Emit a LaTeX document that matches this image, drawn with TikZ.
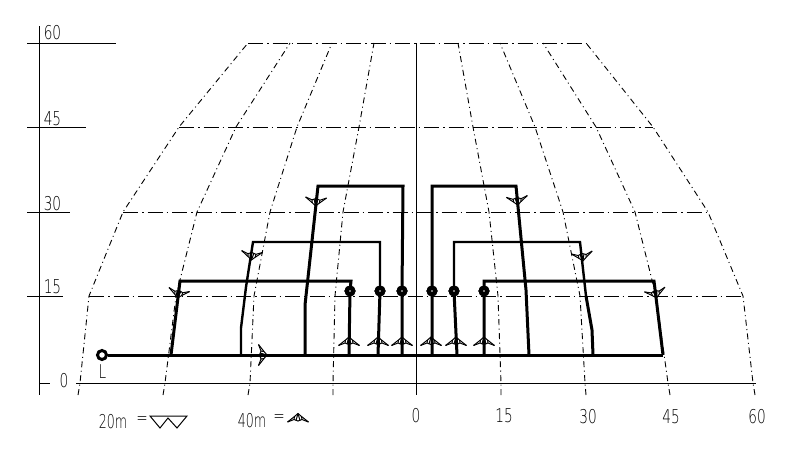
\documentclass[tikz,border=0pt]{standalone}
\usepackage{fontspec}
\setmainfont{DejaVu Sans ExtraLight}
\newcommand{\symfan}[3]{%
  \begin{scope}[shift={(#1,#2)},rotate=#3,line width=1pt,line join=miter]
    \draw (-10.5,1.5) -- (-3.5,-4) -- (0,-7) -- (3.5,-4) -- (10.5,1.5);
    \draw (-10.5,1.5) -- (-4,-1) -- (0,.5) -- (4,-1) -- (10.5,1.5);
    \draw (-3.5,-4) -- (-4,-1) (3.5,-4) -- (4,-1);
    \draw (0,-7) -- (-2,0) (0,-7) -- (2,0);
  \end{scope}}
\tikzset{
  x=1pt,y=-1pt,
  axisline/.style={line width=1pt,black},
  gridh/.style={line width=1pt,dash pattern=on 15pt off 4pt on 1.5pt off 4pt},
  gridv/.style={line width=.9pt,dash pattern=on 6pt off 3.5pt on 1pt off 3.5pt},
  route/.style={line width=3pt,line join=miter,line cap=butt},
  routeb/.style={route,line width=2.4pt},
  lab/.style={font=\fontsize{19}{20}\selectfont,inner sep=0pt,xscale=.72,transform shape},
  labn/.style={lab,xscale=.66/.72},
  holeb/.style={circle,fill=black,draw=black,line width=.5pt,minimum size=10.5pt,inner sep=0pt},
  hole/.style={circle,fill=white,draw=none,minimum size=1.8pt,inner sep=0pt}
}
\begin{document}
\begin{tikzpicture}
\useasboundingbox (0,0) rectangle (791,455);
\fill[white] (0,0) rectangle (791,455);
% axes
\draw[axisline] (39,26) -- (39,395);
\draw[axisline] (27,43) -- (116,43);
\draw[axisline] (27,127) -- (86,127);
\draw[axisline] (27,212) -- (70,212);
\draw[axisline] (27,296) -- (63,296);
\draw[axisline] (39,383) -- (50,383);
\draw[axisline] (76,383) -- (756,383);
\draw[axisline] (416,43) -- (416,395);
% grid
\foreach \yy/\xa/\xb in {43/248/586,127/179/653,212/123/708,296/89/743}
  \draw[gridh] (\xa,\yy) -- (\xb,\yy);
\draw[gridv] (78,395) -- (80,383) -- (89,296) -- (123,212) -- (179,127) -- (248,43);
\draw[gridv] (163,395) -- (165,383) -- (176,296) -- (197,212) -- (236,127) -- (290,43);
\draw[gridv] (248,395) -- (250,383) -- (254,296) -- (270,212) -- (297,127) -- (332,43);
\draw[gridv] (333,395) -- (333,383) -- (335,296) -- (343,212) -- (359,127) -- (374,43);
\draw[gridv] (501,395) -- (501,383) -- (498,296) -- (489,212) -- (473,127) -- (458,43);
\draw[gridv] (586,395) -- (585,383) -- (580,296) -- (563,212) -- (535,127) -- (500,43);
\draw[gridv] (670,395) -- (668,383) -- (656,296) -- (635,212) -- (596,127) -- (543,43);
\draw[gridv] (755,395) -- (753,383) -- (743,296) -- (708,212) -- (653,127) -- (586,43);
% routes
\node[circle,draw=black,line width=3pt,fill=white,minimum size=9pt,inner sep=0pt] (lamp) at (102,355) {};
\coordinate (mainend) at (663,355);
\draw[route] (lamp) -- (mainend);
\node[holeb] (a1) at (350,291) {};
\node[holeb] (a2) at (380,291) {};
\node[holeb] (a3) at (402,291) {};
\node[holeb] (a4) at (432,291) {};
\node[holeb] (a5) at (454,291) {};
\node[holeb] (a6) at (484,291) {};
\draw[route] (171,355) -- (180,281) -- (351,281) -- (a1.center) -- (349,355);
\draw[routeb] (241,355) -- (241,328) -- (246,287) -- (253,242) -- (380,242) -- (a2.center);
\draw[route] (a2.center) -- (378,355);
\draw[route] (305,355) -- (305,305) -- (318,186) -- (403,186) -- (a3.center) -- (402,355);
\draw[route] (432,355) -- (a4.center) -- (432,186) -- (516,186) -- (526,290) -- (529,355);
\draw[routeb] (a5.center) -- (454,242) -- (580,242) -- (586,296);
\draw[route] (586,296) -- (592,330) -- (593,355);
\draw[route] (a5.center) -- (457,355);
\draw[route] (484,355) -- (a6.center) -- (484,281) -- (654,281) -- (663,355);
\foreach \n in {a1,a2,a3,a4,a5,a6} \node[holeb] at (\n) {};
\foreach \n in {a1,a2,a3,a4,a5,a6} \node[hole] at (\n) {};
% symbols
\foreach \xx in {349,378,402,431,456,484} {\symfan{\xx}{344}{0}}
\symfan{179}{291}{169}
\symfan{252}{253}{175}
\symfan{316}{199}{177}
\symfan{517}{198}{185}
\symfan{582}{254}{188}
\symfan{655}{291}{193}
\symfan{260}{355}{-90}
\symfan{298}{420.5}{0}
% legend zigzag
\draw[line width=1pt] (150,416) -- (187,416) -- (177,428) -- (168,418) -- (160,428) -- cycle;
% labels
\node[lab] (y60) at (52.5,33) {60};
\node[lab] (y45) at (52.5,119) {45};
\node[lab] (y30) at (52.5,204) {30};
\node[lab] (y15) at (52.5,287) {15};
\node[lab] (y0) at (64,381) {0};
\node[lab] (x0) at (416,416) {0};
\node[lab] (x15) at (504,416) {15};
\node[lab] (x30) at (588,417) {30};
\node[lab] (x45) at (671,417) {45};
\node[lab] (x60) at (757,417) {60};
\node[lab] (ll) at (102.5,372) {L};
\node[lab,xscale=.92] (l20) at (113,422) {20m};
\node[lab] (e20) at (142,421) {=};
\node[lab,xscale=.92] (l40) at (252,421) {40m};
\node[lab] (e40) at (279,419) {=};
\end{tikzpicture}
\end{document}
